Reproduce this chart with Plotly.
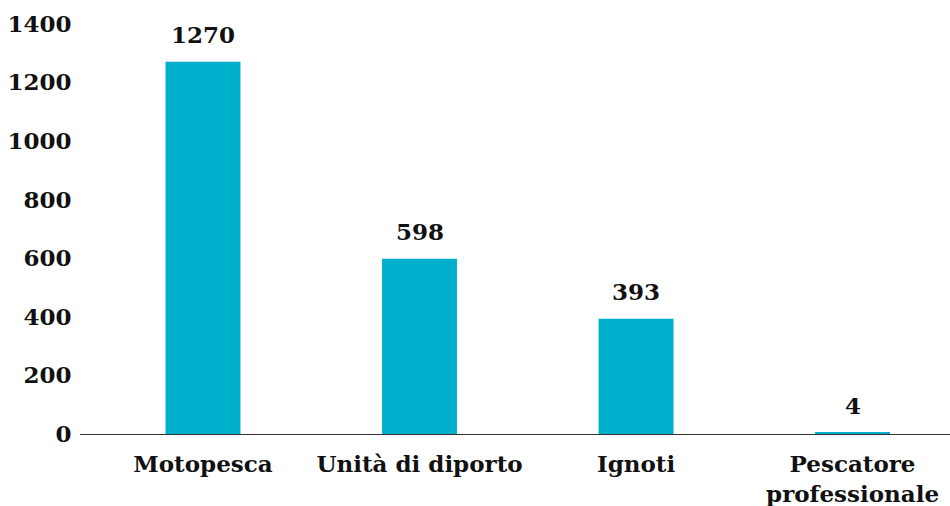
import plotly.graph_objects as go

categories = ["Motopesca", "Unità di diporto", "Ignoti", "Pescatore<br>professionale"]
values = [1270, 598, 393, 4]
y_ticks = [0, 200, 400, 600, 800, 1000, 1200, 1400]

BAR_COLOR = "#00AFCB"
FONT = "DejaVu Serif"

fig = go.Figure(
    go.Bar(
        x=list(range(len(categories))),
        y=values,
        marker=dict(color=BAR_COLOR, line=dict(width=0)),
        hoverinfo="skip",
    )
)

# value labels above each bar
for i, v in enumerate(values):
    fig.add_annotation(
        x=i, y=v, text=str(v), showarrow=False,
        yanchor="bottom", yshift=12,
        font=dict(family=FONT, size=23, color="#111111", weight="bold"),
    )

fig.update_layout(
    width=950, height=506,
    margin=dict(l=80, r=0, t=10, b=72),
    paper_bgcolor="white", plot_bgcolor="white",
    bargap=0.654,
    showlegend=False,
    font=dict(family=FONT, size=22, color="#111111", weight="bold"),
)

fig.update_xaxes(
    tickmode="array",
    tickvals=list(range(len(categories))),
    ticktext=categories,
    range=[-0.568, 3.450],
    showline=True, linecolor="#333333", linewidth=1,
    showgrid=False, zeroline=False,
    ticks="outside", ticklen=9, tickcolor="rgba(0,0,0,0)",
    tickfont=dict(family=FONT, size=23, color="#111111", weight="bold"),
)

fig.update_yaxes(
    range=[0, 1447],
    tickmode="array",
    tickvals=y_ticks,
    showline=False, showgrid=False, zeroline=False,
    ticks="outside", ticklen=3, tickcolor="rgba(0,0,0,0)",
    tickfont=dict(family=FONT, size=23, color="#111111", weight="bold"),
)

fig.write_html("out.html")
